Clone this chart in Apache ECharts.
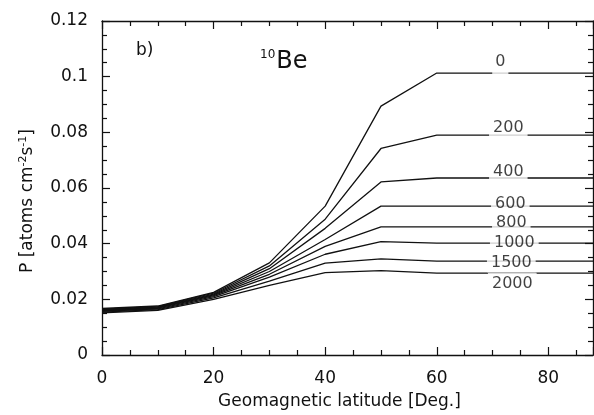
<!DOCTYPE html>
<html>
<head>
<meta charset="utf-8">
<script src="https://cdn.jsdelivr.net/npm/echarts@6/dist/echarts.min.js"></script>
<style>
  html, body { margin: 0; padding: 0; background: #fff; }
  #chart { width: 594px; height: 415px; }
</style>
</head>
<body>
<div id="chart"></div>
<script>
// Geomagnetic latitude grid (degrees)
const latitudes = [0, 10, 20, 30, 40, 50, 60, 90];

// Contour levels (labels drawn on each curve)
const levels = ['0', '200', '400', '600', '800', '1000', '1500', '2000'];

// 10Be production rate P [atoms cm^-2 s^-1] per level, at each latitude
const p0    = [0.0167, 0.0176, 0.0225, 0.0331, 0.0535, 0.0894, 0.1013, 0.1013];
const p200  = [0.0165, 0.0174, 0.0222, 0.0320, 0.0488, 0.0742, 0.0790, 0.0790];
const p400  = [0.0163, 0.0172, 0.0219, 0.0310, 0.0455, 0.0622, 0.0636, 0.0636];
const p600  = [0.0161, 0.0170, 0.0216, 0.0300, 0.0415, 0.0535, 0.0535, 0.0535];
const p800  = [0.0159, 0.0168, 0.0213, 0.0290, 0.0390, 0.0460, 0.0460, 0.0460];
const p1000 = [0.0157, 0.0166, 0.0210, 0.0280, 0.0362, 0.0407, 0.0402, 0.0402];
const p1500 = [0.0154, 0.0163, 0.0205, 0.0265, 0.0330, 0.0345, 0.0337, 0.0337];
const p2000 = [0.0151, 0.0160, 0.0200, 0.0250, 0.0296, 0.0303, 0.0294, 0.0294];

const curves = [p0, p200, p400, p600, p800, p1000, p1500, p2000];

// Axis ticks
const xTicks = [0, 20, 40, 60, 80];
const yTicks = [0, 0.02, 0.04, 0.06, 0.08, 0.1, 0.12];

// Latitude where the level labels sit on each curve
const labelLat = 73;
// Pixel nudges [dx, dy] and white-box paddings [top, right, bottom, left] for each level label
const labelNudge = [[-9, -11.5], [-1, -7], [-1, -6.5], [1, -2.5], [2, -4.5], [5, 0], [2, 1.5], [3, 11]];
const labelPad = [[1, 3, 9, 3], [1, 4, 3, 4], [1, 4, 2, 4], [1, 4, 2, 4], [1, 4, 2, 4], [1, 4, 2, 4], [1, 4, 2, 4], [5, 4, 2, 4]];

const FONT = 'DejaVu Sans, Arial, sans-serif';
const INK = '#111';

const lineSeries = curves.map((vals, i) => ({
  type: 'line',
  name: levels[i],
  data: latitudes.map((lat, j) => [lat, vals[j]]),
  symbol: 'none',
  clip: true,
  lineStyle: { color: INK, width: 1.3 },
  z: 2,
  animation: false
}));

// Level labels, placed on the plateau value of each curve
const labelSeries = {
  type: 'scatter',
  symbolSize: 0,
  data: curves.map((vals, i) => ({
    value: [labelLat, vals[vals.length - 1]],
    label: {
      show: true,
      formatter: levels[i],
      position: 'inside',
      offset: labelNudge[i],
      fontFamily: FONT,
      fontSize: 16,
      lineHeight: 16,
      color: INK,
      backgroundColor: '#fff',
      padding: labelPad[i]
    }
  })),
  z: 5,
  animation: false
};

// Ticks point into the plot area (negative length flips them inward)
const axisCommon = {
  axisLine: { show: true, onZero: false, lineStyle: { color: INK, width: 1.3 } },
  axisTick: { show: true, inside: false, length: -8, lineStyle: { color: INK, width: 1.2 } },
  minorTick: { show: true, splitNumber: 4, length: -5, lineStyle: { color: INK, width: 1.2 } },
  splitLine: { show: false }
};

const option = {
  backgroundColor: '#fff',
  animation: false,
  title: [
    {
      text: 'b)',
      left: 131, top: 37,
      textStyle: { fontFamily: FONT, fontSize: 17, fontWeight: 'normal', color: INK }
    },
    {
      text: '{sup|10}{be|Be}',
      left: 255, top: 44,
      textStyle: {
        fontWeight: 'normal',
        rich: {
          sup: { fontFamily: FONT, fontSize: 12, fontWeight: 'normal', color: INK, verticalAlign: 'top', padding: [0, 1, 14, 0] },
          be: { fontFamily: FONT, fontSize: 24, fontWeight: 'normal', color: INK }
        }
      }
    }
  ],
  grid: { left: 102, right: 1, top: 21, bottom: 60, containLabel: false, outerBoundsMode: 'none' },
  xAxis: [
    Object.assign({}, axisCommon, {
      type: 'value',
      min: 0, max: 88, interval: 20,
      position: 'bottom',
      name: 'Geomagnetic latitude [Deg.]',
      nameLocation: 'middle',
      nameGap: 38,
      nameTextStyle: { fontFamily: FONT, fontSize: 17, color: INK, padding: [0, 16, 0, 0] },
      axisLabel: {
        show: true, showMaxLabel: false, margin: 15,
        fontFamily: FONT, fontSize: 17, color: INK,
        formatter: v => (xTicks.indexOf(v) >= 0 ? String(v) : '')
      }
    }),
    Object.assign({}, axisCommon, {
      type: 'value',
      min: 0, max: 88, interval: 20,
      position: 'top',
      axisLabel: { show: false }
    })
  ],
  yAxis: [
    Object.assign({}, axisCommon, {
      type: 'value',
      min: 0, max: 0.12, interval: 0.02,
      position: 'left',
      name: 'P [atoms cm{sup|-2}s{sup|-1}]',
      nameLocation: 'middle',
      nameRotate: 90,
      nameGap: 64,
      nameTextStyle: {
        fontFamily: FONT, fontSize: 17, color: INK,
        padding: [0, 26, 0, 0],
        rich: {
          sup: { fontFamily: FONT, fontSize: 11, color: INK, verticalAlign: 'top', padding: [0, 0, 9, 0] }
        }
      },
      axisLabel: {
        show: true, margin: 14,
        fontFamily: FONT, fontSize: 17, color: INK,
        formatter: v => {
          const t = yTicks.find(y => Math.abs(y - v) < 1e-9);
          return t === undefined ? '' : String(+t.toFixed(2));
        }
      }
    }),
    Object.assign({}, axisCommon, {
      type: 'value',
      min: 0, max: 0.12, interval: 0.02,
      position: 'right',
      axisLabel: { show: false }
    })
  ],
  series: lineSeries.concat([labelSeries])
};

const chart = echarts.init(document.getElementById('chart'), null, { renderer: 'canvas' });
chart.setOption(option);
</script>
</body>
</html>
